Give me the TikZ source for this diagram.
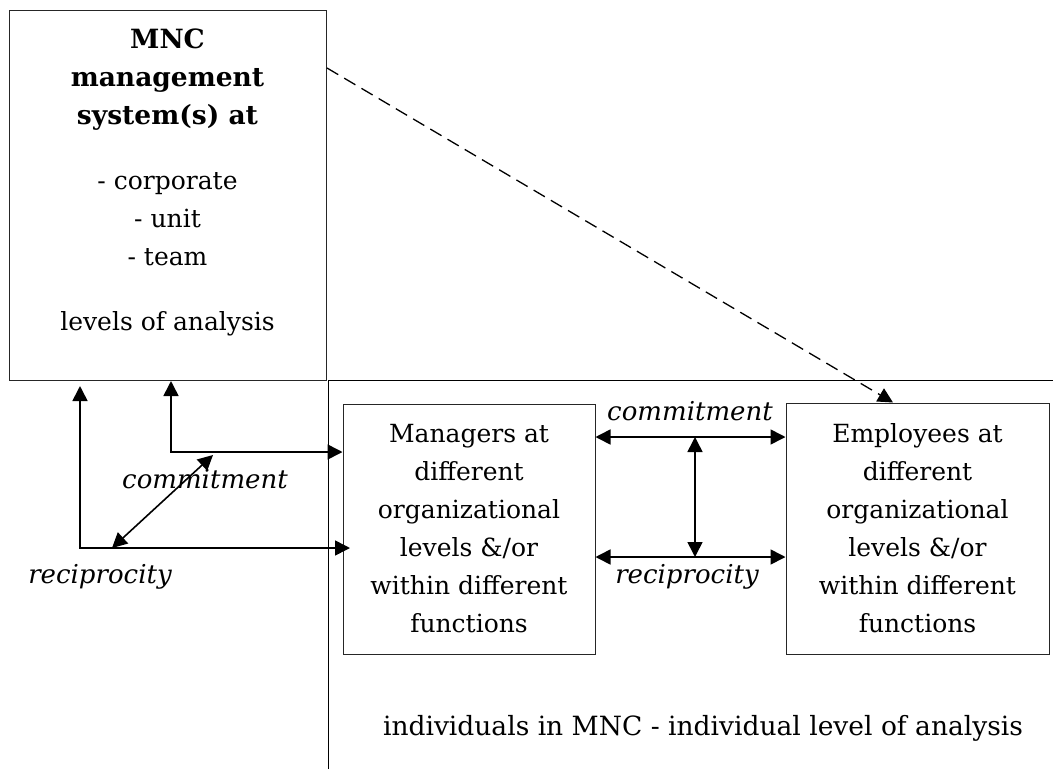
\documentclass[tikz,border=0pt]{standalone}
\usepackage{fontspec}
\setmainfont{DejaVu Serif}
\usetikzlibrary{arrows.meta}
\newcommand{\headfont}{\fontsize{26.5}{38}\selectfont\bfseries}
\begin{document}
\begin{tikzpicture}[x=1pt,y=-1pt,
  every node/.style={font=\fontsize{25}{38}\selectfont, inner sep=0pt},
  box/.style={draw=black!85, line width=1pt, align=center},
  link/.style={line width=1.6pt, -{Triangle[length=15pt,width=15pt]}},
  dlink/.style={line width=1.6pt, {Triangle[length=15pt,width=15pt]}-{Triangle[length=15pt,width=15pt]}},
  tag/.style={font=\fontsize{26}{38}\selectfont\itshape}
]
\useasboundingbox (0,0) rectangle (1053,769);

% organisational level: management system box
\node[box, minimum width=317pt, minimum height=370pt, anchor=north west] (mnc) at (9,10) {};
\node[align=center, anchor=north] (mnctext) at (167.5,29)
  {{\headfont MNC}\\ {\headfont management}\\ {\headfont system(s) at}\\[27pt]
   - corporate\\ - unit\\ - team\\[27pt] levels of analysis};

% individual level frame
\coordinate (frameA) at (328,769);
\coordinate (frameB) at (328,380.5);
\coordinate (frameC) at (1053,380.5);
\draw[line width=1pt] (frameA) -- (frameB) -- (frameC);

% the two groups of individuals
\node[box, minimum width=252pt, minimum height=250pt] (mgr) at (469,529)
  {Managers at\\ different\\ organizational\\ levels \&/or\\ within different\\ functions};
\node[box, minimum width=263pt, minimum height=251pt] (emp) at (917.5,528.5)
  {Employees at\\ different\\ organizational\\ levels \&/or\\ within different\\ functions};

% relations between managers and employees
\coordinate (yc) at (0,437);
\coordinate (yr) at (0,557);
\coordinate (cmid) at (695,437);
\coordinate (rmid) at (695,557);
\draw[dlink] (mgr.east |- yc) -- (emp.west |- yc);
\draw[dlink] (mgr.east |- yr) -- (emp.west |- yr);
\draw[dlink] (cmid) -- (rmid);
\node[tag, anchor=base] (ctag) at (690,420) {commitment};
\node[tag, anchor=base] (rtag) at (687,583) {reciprocity};

% relations between the management system and managers
\coordinate (xa) at (171,0);
\coordinate (ya) at (0,452);
\coordinate (xb) at (80,0);
\coordinate (bend) at (350,548);
\draw[dlink] (mnc.south -| xa) |- (mgr.west |- ya);
\draw[dlink] ([yshift=-5pt]mnc.south -| xb) |- (bend);
\coordinate (dlow) at (112,548);
\coordinate (dhigh) at (213,455);
\draw[dlink] (dlow) -- (dhigh);
\node[tag, anchor=base] (ctag2) at (205,488) {commitment};
\node[tag, anchor=base] (rtag2) at (100,583) {reciprocity};

% influence of the management system on employees
\coordinate (ys) at (0,68);
\coordinate (xd) at (893,0);
\draw[link, line width=1.3pt, dash pattern=on 13pt off 7pt] (mnc.east |- ys) -- (emp.north -| xd);

% caption of the individual level
\node[anchor=base, font=\fontsize{26.5}{38}\selectfont] (indiv) at (703,735) {individuals in MNC - individual level of analysis};
\end{tikzpicture}
\end{document}
